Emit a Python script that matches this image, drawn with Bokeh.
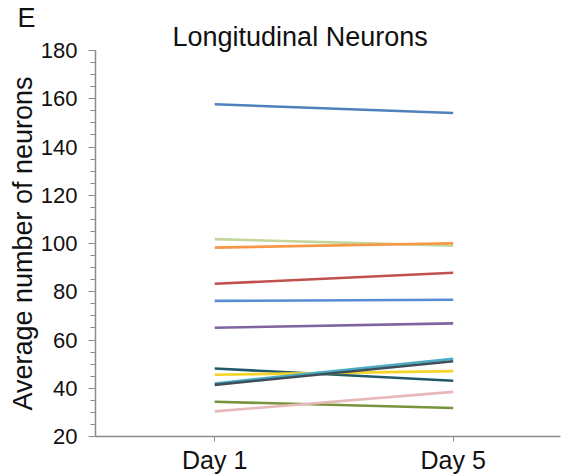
from bokeh.plotting import figure
from bokeh.models import FixedTicker, Title
from bokeh.embed import file_html
from bokeh.resources import INLINE

days = ["Day 1", "Day 5"]
series_day1 = [157.7, 101.8, 98.3, 83.3, 76.2, 65.1, 48.2, 45.6, 42.0, 41.4, 34.4, 30.4]
series_day5 = [154.1, 99.1, 100.1, 87.9, 76.7, 66.9, 43.1, 47.1, 52.2, 51.2, 31.8, 38.5]
colors = ["#4f81bd", "#c3d69b", "#f79646", "#c0504d", "#558ed5", "#8064a2",
          "#215968", "#f5d327", "#4bacc6", "#3f4f5a", "#77933c", "#e6b9b8"]
y_ticks = [20, 40, 60, 80, 100, 120, 140, 160, 180]

FONT = "Liberation Sans"
xs = [i + 1 for i in range(len(days))]

p = figure(width=568, height=476, output_backend="svg", toolbar_location=None,
           x_range=(0.5, 2.45), y_range=(20, 180),
           min_border_left=95, min_border_right=8, min_border_top=50, min_border_bottom=39)
p.outline_line_color = None
p.xgrid.visible = False
p.ygrid.visible = False

for a, b, c in zip(series_day1, series_day5, colors):
    p.line(xs, [a, b], line_color=c, line_width=2.6)

axis_color = "#8c8c8c"
yax = p.yaxis[0]
yax.ticker = FixedTicker(ticks=y_ticks, minor_ticks=list(range(20, 181, 5)))
yax.axis_line_color = axis_color
yax.axis_line_width = 1.5
yax.major_tick_line_color = axis_color
yax.minor_tick_line_color = axis_color
yax.major_tick_out = 7
yax.major_tick_in = 0
yax.minor_tick_out = 5
yax.minor_tick_in = 0
yax.major_label_text_font = FONT
yax.major_label_text_font_size = "22px"
yax.major_label_text_color = "#111111"
yax.major_label_standoff = 11
yax.axis_label = "Average number of neurons"
yax.axis_label_text_font = FONT
yax.axis_label_text_font_size = "27px"
yax.axis_label_text_font_style = "normal"
yax.axis_label_text_color = "#111111"
yax.axis_label_standoff = 0

xax = p.xaxis[0]
xax.ticker = FixedTicker(ticks=xs)
xax.major_label_overrides = {x: d for x, d in zip(xs, days)}
xax.axis_line_color = axis_color
xax.axis_line_width = 1.5
xax.major_tick_line_color = axis_color
xax.major_tick_out = 5
xax.major_tick_in = 0
xax.minor_tick_line_color = None
xax.major_label_text_font = FONT
xax.major_label_text_font_size = "25px"
xax.major_label_text_color = "#111111"
xax.major_label_standoff = 4

p.add_layout(Title(text="Longitudinal Neurons", text_font=FONT, text_font_size="27px",
                   text_font_style="normal", text_color="#111111", align="left",
                   offset=77, standoff=-3), "above")
p.add_layout(Title(text="E", text_font=FONT, text_font_size="27px",
                   text_font_style="normal", text_color="#111111", align="left",
                   offset=-78, standoff=-22), "above")

open("out.html", "w").write(file_html(p, INLINE))
